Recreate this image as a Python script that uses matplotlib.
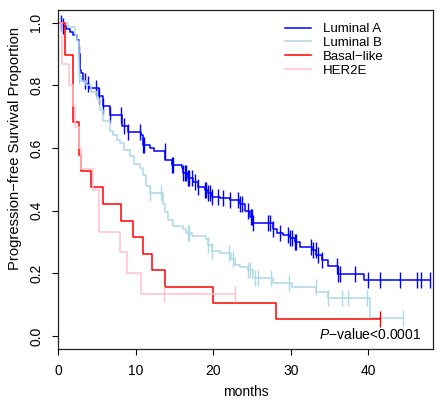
import numpy as np
import matplotlib
matplotlib.use("Agg")
import matplotlib.pyplot as plt

plt.rcParams['font.family'] = ['Liberation Sans', 'DejaVu Sans']
plt.rcParams['mathtext.fontset'] = 'custom'
plt.rcParams['mathtext.it'] = 'Liberation Sans:italic'
plt.rcParams['mathtext.rm'] = 'Liberation Sans'

# Kaplan-Meier curves: drop times (months) and survival after each drop
lumA_t = [0.5, 1.0, 1.5, 1.85, 2.4, 2.7, 2.75, 2.95, 3.15, 3.6, 4.0, 5.3, 5.7, 6.6, 8.2,
          9.0, 10.6, 10.9, 11.8, 12.3, 13.8, 14.6, 15.9, 16.1, 16.7, 17.4, 18.0, 18.9,
          19.3, 19.8, 20.8, 22.1, 23.4, 24.1, 24.7, 25.1, 27.7, 28.2, 29.0, 29.9, 30.5,
          31.2, 32.7, 33.3, 34.0, 34.8, 36.1, 39.4]
lumA_s = [0.99, 0.98, 0.97, 0.96, 0.945, 0.90, 0.85, 0.84, 0.815, 0.805, 0.79, 0.765,
          0.735, 0.705, 0.67, 0.65, 0.64, 0.61, 0.60, 0.59, 0.562, 0.545, 0.535, 0.52,
          0.505, 0.49, 0.475, 0.465, 0.455, 0.445, 0.44, 0.435, 0.42, 0.40, 0.38, 0.36,
          0.34, 0.328, 0.323, 0.312, 0.30, 0.283, 0.276, 0.258, 0.242, 0.222, 0.198, 0.18]
lumA_end = 48.0
lumA_cens = [0.3, 0.56, 2.7, 3.4, 3.8, 4.9, 5.3, 5.7, 6.6, 8.1, 8.5, 9.0, 10.5, 10.9, 11.1,
             13.7, 14.6, 14.8, 16.1, 16.3, 16.5, 16.7, 16.9, 17.2, 17.6, 18.0, 18.9, 19.1,
             19.3, 19.6, 19.8, 20.6, 21.3, 22.1, 23.2, 23.4, 23.7, 24.5, 24.8, 25.0, 25.1,
             27.0, 27.3, 27.7, 28.6, 29.6, 29.9, 30.2, 30.5, 30.7, 32.6, 32.9, 33.2, 33.5,
             34.0, 35.9, 36.1, 36.3, 38.3, 40.0, 41.5, 44.1, 46.3, 46.8, 48.0]

lumB_t = [1.2, 2.1, 2.4, 2.6, 2.7, 2.95, 3.6, 4.2, 5.0, 5.4, 5.7, 6.6, 7.0, 7.5, 7.9, 8.5,
          9.2, 9.8, 10.5, 10.9, 11.3, 11.8, 13.5, 13.7, 14.1, 14.8, 16.1, 16.5, 17.2, 19.1,
          19.3, 19.8, 20.8, 22.3, 22.8, 23.4, 24.5, 25.1, 27.7, 30.1, 33.3, 34.8, 40.2]
lumB_s = [0.985, 0.96, 0.94, 0.88, 0.83, 0.815, 0.80, 0.78, 0.755, 0.72, 0.685, 0.655,
          0.64, 0.625, 0.615, 0.595, 0.575, 0.55, 0.535, 0.515, 0.48, 0.455, 0.42, 0.395,
          0.37, 0.35, 0.34, 0.33, 0.32, 0.31, 0.29, 0.272, 0.265, 0.245, 0.228, 0.22, 0.21,
          0.185, 0.17, 0.158, 0.142, 0.12, 0.058]
lumB_end = 44.5
lumB_cens = [2.7, 11.8, 13.3, 16.7, 16.9, 19.3, 19.8, 22.0, 22.5, 24.5, 24.7, 25.4, 25.7,
             27.5, 29.8, 33.2, 34.8, 36.6, 37.4, 39.8, 44.5]

basal_t = [0.87, 1.9, 2.6, 2.9, 4.2, 5.7, 8.1, 9.6, 10.9, 12.1, 13.8, 20.0, 28.1]
basal_s = [0.895, 0.684, 0.579, 0.526, 0.474, 0.421, 0.368, 0.316, 0.263, 0.211, 0.158,
           0.105, 0.053]
basal_end = 41.5
basal_cens = [41.5]

her2_t = [0.5, 1.4, 1.9, 2.2, 2.6, 2.9, 4.5, 5.2, 7.9, 8.8, 10.7]
her2_s = [0.867, 0.80, 0.733, 0.667, 0.60, 0.533, 0.467, 0.333, 0.267, 0.20, 0.133]
her2_end = 22.8
her2_cens = [13.6, 22.8]

groups = ['Luminal A', 'Luminal B', 'Basal\u2212like', 'HER2E']
colors = ['#0000FF', '#ADD8E6', '#FF0000', '#FFC0CB']
curves = [(lumA_t, lumA_s, lumA_end, lumA_cens),
          (lumB_t, lumB_s, lumB_end, lumB_cens),
          (basal_t, basal_s, basal_end, basal_cens),
          (her2_t, her2_s, her2_end, her2_cens)]

fig = plt.figure(figsize=(4.36, 4.0), dpi=100)
ax = fig.add_axes([0.134, 0.127, 0.860, 0.848])

for name, col, (t, s, end, cens) in zip(groups, colors, curves):
    x = np.concatenate([[0], t, [end]])
    y = np.concatenate([[1.0], s, [s[-1]]])
    ax.step(x, y, where='post', color=col, lw=1.1, label=name)
    # censored observations sit on the curve
    idx = np.searchsorted(x, cens, side='right') - 1
    ax.plot(cens, y[idx], ls='none', marker='|', ms=12, mew=1.0, color=col)

ax.set_xlim(0, 48.4)
ax.set_ylim(-0.042, 1.04)
ax.set_xticks([0, 10, 20, 30, 40])
ax.set_yticks([0.0, 0.2, 0.4, 0.6, 0.8, 1.0])
ax.set_yticklabels(['0.0', '0.2', '0.4', '0.6', '0.8', '1.0'], rotation=90, va='center')
ax.tick_params(axis='both', labelsize=10, length=4, width=0.8, direction='out')
ax.tick_params(axis='y', pad=7)
ax.tick_params(axis='x', pad=7)
for sp in ax.spines.values():
    sp.set_linewidth(0.9)
    sp.set_color('#222222')

ax.set_xlabel('months', fontsize=10, labelpad=5)
ax.set_ylabel('Progression\u2212free Survival Proportion', fontsize=10.6)
ax.yaxis.set_label_coords(-0.098, 0.593)

ax.text(46.9, 0.005, r'$\mathit{P}$' + '\u2212value<0.0001', fontsize=10,
        ha='right', va='center')

ax.legend(loc='upper left', bbox_to_anchor=(0.604, 0.962), frameon=False, fontsize=9.5,
          handlelength=2.0, handletextpad=0.9, labelspacing=0.12, borderpad=0,
          borderaxespad=0)

fig.savefig('out.png', dpi=100)
